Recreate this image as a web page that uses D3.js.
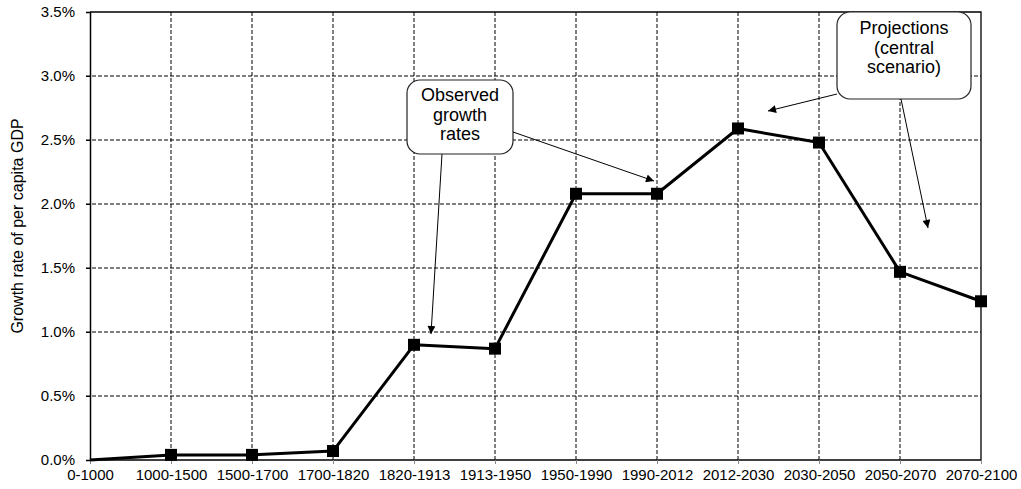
<!DOCTYPE html>
<html>
<head>
<meta charset="utf-8">
<script src="https://cdn.jsdelivr.net/npm/d3@7"></script>
<style>
  body { margin: 0; background: #fff; }
  svg { display: block; font-family: "Liberation Sans", Arial, sans-serif; }
</style>
</head>
<body>
<div id="graph"></div>
<script>
// periods on the x axis
const periods = ["0-1000", "1000-1500", "1500-1700", "1700-1820", "1820-1913", "1913-1950",
                 "1950-1990", "1990-2012", "2012-2030", "2030-2050", "2050-2070", "2070-2100"];
// growth rate of per capita GDP, in %
const growth = [0.0, 0.04, 0.04, 0.07, 0.90, 0.87, 2.08, 2.08, 2.59, 2.48, 1.47, 1.24];
const yTicks = [0, 0.5, 1.0, 1.5, 2.0, 2.5, 3.0, 3.5];

const W = 1021, H = 489;
const m = {left: 90, right: 40, top: 12, bottom: 29};

const vis = d3.select("#graph").append("svg")
    .attr("width", W)
    .attr("height", H);

const x = d3.scalePoint()
    .domain(periods)
    .range([m.left, W - m.right]);

const y = d3.scaleLinear()
    .domain([0, 3.5])
    .range([H - m.bottom, m.top]);

// dashed grid
vis.append("g")
    .selectAll("line")
    .data(yTicks.slice(1, -1))
    .enter().append("line")
    .attr("x1", m.left - 4)
    .attr("x2", W - m.right)
    .attr("y1", d => y(d))
    .attr("y2", d => y(d))
    .style("stroke", "#000")
    .style("stroke-width", 1)
    .style("stroke-dasharray", "4,2");

vis.append("g")
    .selectAll("line")
    .data(periods.slice(1, -1))
    .enter().append("line")
    .attr("x1", d => x(d))
    .attr("x2", d => x(d))
    .attr("y1", y(3.5))
    .attr("y2", y(0))
    .style("stroke", "#000")
    .style("stroke-width", 1)
    .style("stroke-dasharray", "4,2");

// frame: top and right borders
vis.append("path")
    .attr("d", `M${m.left},${y(3.5)}H${W - m.right}V${y(0)}`)
    .style("fill", "none")
    .style("stroke", "#000")
    .style("stroke-width", 1.3);

// axes
const yAxis = vis.append("g")
    .attr("transform", `translate(${m.left},0)`)
    .call(d3.axisLeft(y).tickValues(yTicks).tickSize(4).tickPadding(11)
        .tickFormat(d => d.toFixed(1) + "%"));

const xAxis = vis.append("g")
    .attr("transform", `translate(0,${y(0)})`)
    .call(d3.axisBottom(x).tickSize(4).tickPadding(5));

[yAxis, xAxis].forEach(g => {
    g.select(".domain").style("stroke", "#000").style("stroke-width", 1.5);
    g.selectAll(".tick line").style("stroke", "#888");
    g.selectAll("text")
        .style("font-family", "Liberation Sans, Arial, sans-serif")
        .style("font-size", "15px")
        .style("fill", "#000");
});
xAxis.select(".domain").attr("d", `M${m.left},0H${W - m.right}`);
yAxis.selectAll(".tick line").style("stroke", "#000");

vis.append("text")
    .attr("transform", "translate(23,226) rotate(-90)")
    .attr("text-anchor", "middle")
    .style("font-size", "16px")
    .text("Growth rate of per capita GDP");

// the series
const pts = periods.map((p, i) => ({p: p, v: growth[i]}));

vis.append("path")
    .datum(pts)
    .attr("d", d3.line().x(d => x(d.p)).y(d => y(d.v)))
    .style("fill", "none")
    .style("stroke", "#000")
    .style("stroke-width", 3)
    .style("stroke-linejoin", "round");

vis.selectAll("rect.marker")
    .data(pts.slice(1))
    .enter().append("rect")
    .attr("class", "marker")
    .attr("x", d => x(d.p) - 6)
    .attr("y", d => y(d.v) - 6)
    .attr("width", 12)
    .attr("height", 12)
    .style("fill", "#000");

// annotations
vis.append("defs").append("marker")
    .attr("id", "head")
    .attr("viewBox", "0 0 10 10")
    .attr("refX", 10).attr("refY", 5)
    .attr("markerWidth", 10).attr("markerHeight", 8)
    .attr("markerUnits", "userSpaceOnUse")
    .attr("orient", "auto")
    .append("path")
    .attr("d", "M0,0L10,5L0,10Z")
    .style("fill", "#000");

const notes = [
    {lines: ["Observed", "growth", "rates"], x: 407, y: 80, w: 106, h: 74, base: 101,
     arrows: [[513, 132, 654, 181], [442, 154, 431, 334]]},
    {lines: ["Projections", "(central", "scenario)"], x: 837, y: 12, w: 134, h: 87, base: 34,
     arrows: [[837, 94, 768, 111], [901, 99, 928, 228]]}
];

notes.forEach(n => {
    n.arrows.forEach(a => {
        vis.append("line")
            .attr("x1", a[0]).attr("y1", a[1])
            .attr("x2", a[2]).attr("y2", a[3])
            .style("stroke", "#000")
            .style("stroke-width", 1)
            .attr("marker-end", "url(#head)");
    });
    vis.append("rect")
        .attr("x", n.x).attr("y", n.y)
        .attr("width", n.w).attr("height", n.h)
        .attr("rx", 13).attr("ry", 13)
        .style("fill", "#fff")
        .style("stroke", "#222")
        .style("stroke-width", 1.2);
    vis.append("text")
        .attr("text-anchor", "middle")
        .style("font-size", "18px")
        .selectAll("tspan")
        .data(n.lines)
        .enter().append("tspan")
        .attr("x", n.x + n.w / 2)
        .attr("y", (d, i) => n.base + i * 19.5)
        .text(d => d);
});
</script>
</body>
</html>
